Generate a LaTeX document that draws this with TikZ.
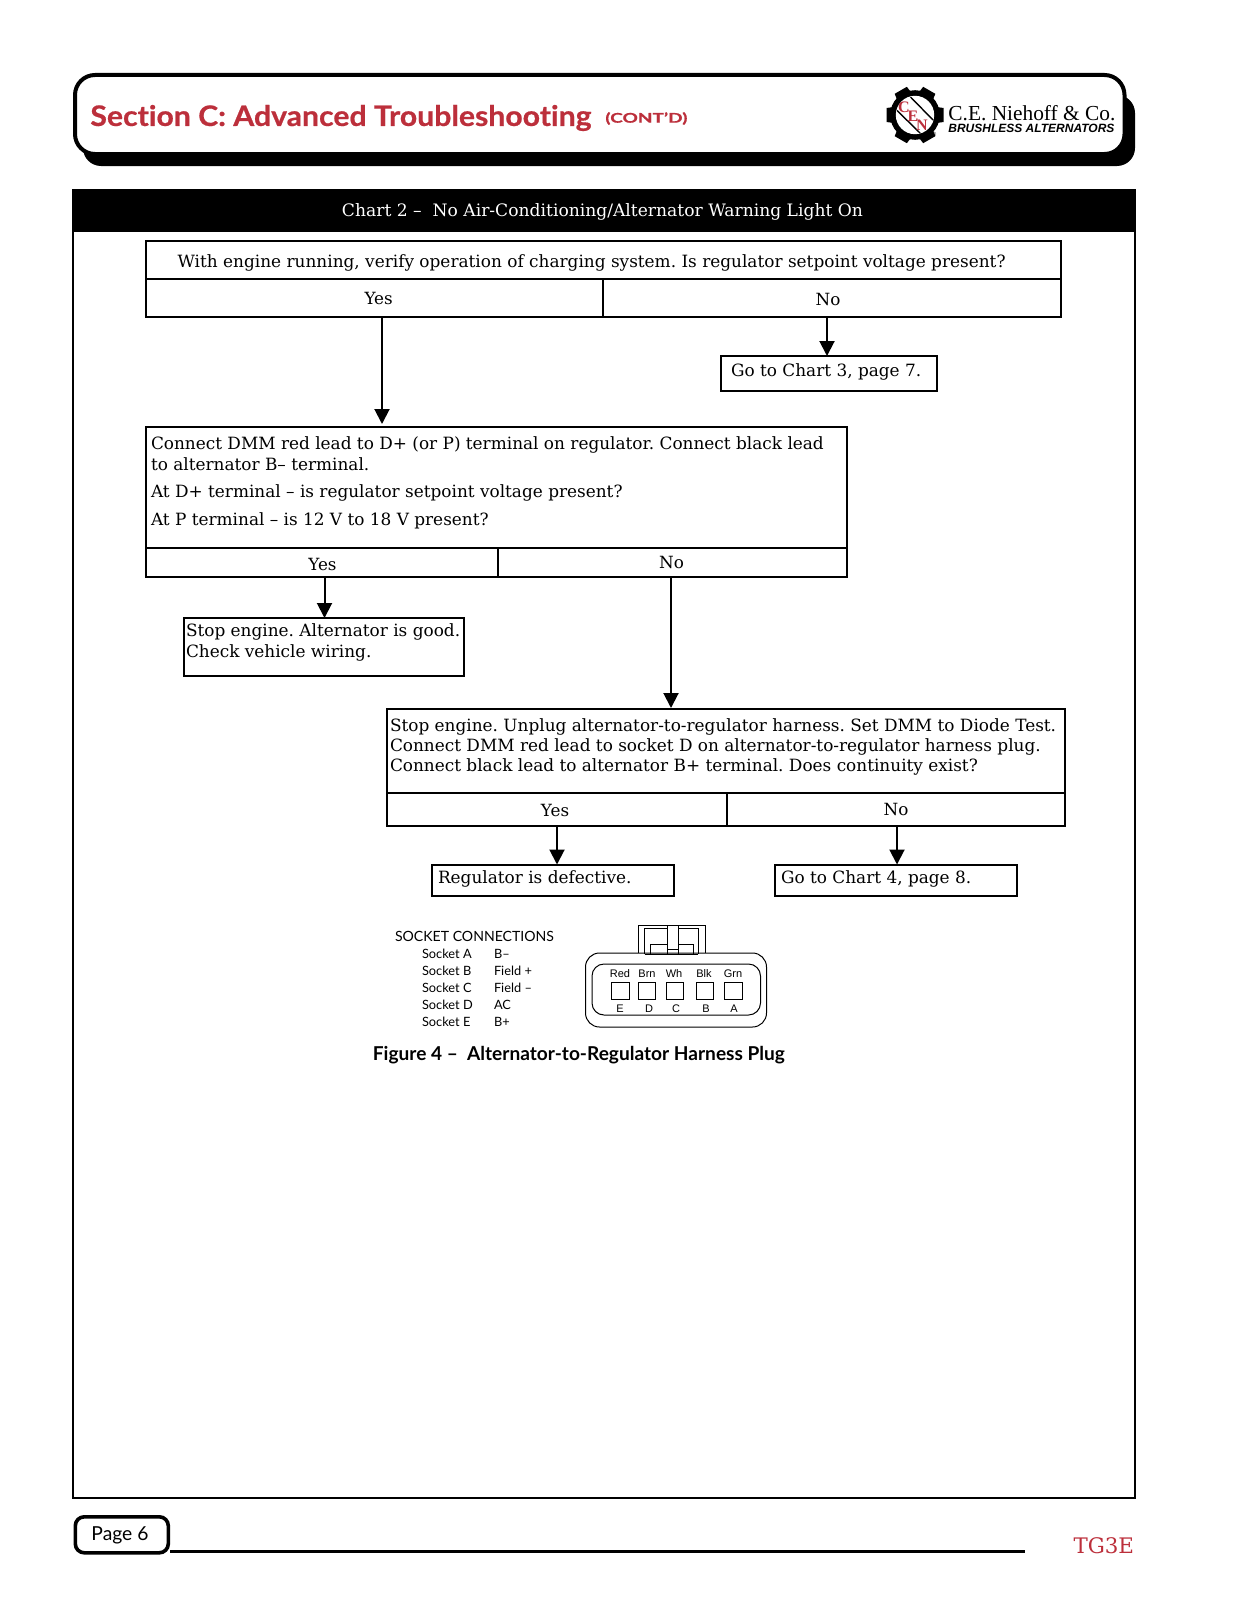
\documentclass[tikz,border=0pt]{standalone}
\usepackage{graphicx}
\usepackage{fontspec}
\setmainfont{DejaVu Serif}
\newfontfamily\gill[Ligatures=CommonOff]{Lato}
\newfontfamily\gillfat[Ligatures=CommonOff,FakeBold=0.6]{Lato Bold}
\newfontfamily\helv{Liberation Sans}
\newfontfamily\tms{Liberation Serif}
\usetikzlibrary{arrows.meta}
\definecolor{secred}{HTML}{BC2F3B}
\newcommand\fitw[2]{\resizebox{\dimexpr #1pt/2\relax}{!}{#2}}
\newcommand\fitwh[3]{\resizebox{\dimexpr #1pt/2\relax}{\dimexpr #2pt/2\relax}{#3}}
\tikzset{
  x=0.5pt,y=-0.5pt,
  cellbox/.style={draw=black,line width=1pt,anchor=north west,inner sep=0pt,outer sep=0pt},
  arr/.style={draw=black,line width=1pt,-{Triangle[length=7.5pt,width=7.5pt]}},
  body/.style={inner sep=0pt,outer sep=0pt,align=left,anchor=west,font=\frenchspacing\fontsize{8.45}{10.2}\selectfont},
  lab/.style={inner sep=0pt,outer sep=0pt,anchor=center,font=\fontsize{8.4}{10.2}\selectfont},
  sock/.style={inner sep=0pt,outer sep=0pt,anchor=west,font=\gill\fontsize{6.4}{7}\selectfont},
  pin/.style={inner sep=0pt,outer sep=0pt,anchor=center,font=\helv\fontsize{5.5}{6}\selectfont},
  pinbox/.style={draw=black,line width=0.5pt},
  plugline/.style={draw=black,line width=0.5pt},
  logoletter/.style={inner sep=0pt,text=secred,font=\tms\bfseries\fontsize{8}{8}\selectfont},
}
\begin{document}
\begin{tikzpicture}
\useasboundingbox (0,0) rectangle (1237,1600);
% header
\fill[black,rounded corners=9pt] (83,95) rectangle (1135,166);
\draw[black,fill=white,line width=2pt,rounded corners=10pt] (75,75) rectangle (1124.5,154);
\node[inner sep=0pt,anchor=west,text=secred,font=\gillfat\fontsize{14}{16}\selectfont] (sec) at (90,118) {\fitwh{501}{21}{Section C: Advanced Troubleshooting}};
\node[inner sep=0pt,anchor=west,text=secred,font=\gillfat\fontsize{8}{10}\selectfont] (cont) at (605,118.5) {\fitwh{82}{10.5}{(CONT’D)}};
% logo
\begin{scope}[shift={(915,115)}]
  \foreach \a in {0,60,...,300}{
    \fill[black,rotate=\a] (18,-8.5) -- (28.5,-7) -- (28.5,7) -- (18,8.5) -- cycle;
  }
  \fill[black] (0,0) circle[radius=12.4pt];
  \fill[white] (0,0) circle[radius=9.6pt];
  \draw[black,line width=0.7pt] (-4.5,-18) -- (18,5);
  \draw[black,line width=0.7pt] (-18,-4.5) -- (5,18);
\end{scope}
\node[logoletter] (logoc) at (904,107) {C};
\node[logoletter] (logoe) at (913,116) {E};
\node[logoletter] (logon) at (922,125) {N};
\node[inner sep=0pt,font=\helv\fontsize{3}{3}\selectfont] (logor) at (934,134) {®};
\node[inner sep=0pt,anchor=west,font=\tms\fontsize{11}{12}\selectfont] (nieh) at (948,113) {\fitw{167}{C.E. Niehoff \& Co.}};
\node[inner sep=0pt,anchor=west,font=\helv\bfseries\itshape\fontsize{5}{6}\selectfont] (brush) at (948,128) {\fitw{166}{BRUSHLESS ALTERNATORS}};
% chart frame
\draw[black,line width=1pt] (72.5,190) rectangle (1135,1498);
\fill[black] (72,190) rectangle (1135.5,232);
\node[inner sep=0pt,text=white,font=\fontsize{8}{10}\selectfont] (title) at (602.5,212) {\fitw{521}{Chart 2 –\ \ No Air-Conditioning/Alternator Warning Light On}};
% box 1
\node[cellbox,minimum width=457.5pt,minimum height=19pt] (q1) at (146,241) {};
\node[cellbox,minimum width=228.5pt,minimum height=19pt] (q1y) at (146,279) {};
\node[cellbox,minimum width=229pt,minimum height=19pt] (q1n) at (603,279) {};
\node[body] (q1t) at (177.6,263) {\fitw{828}{With engine running, verify operation of charging system. Is regulator setpoint voltage present?}};
\node[lab] (q1yt) at (378.6,298) {Yes};
\node[lab] (q1nt) at (828,299) {No};
\node[cellbox,minimum width=108.25pt,minimum height=17.5pt] (c3) at (720.5,356) {};
\node[body] (c3t) at (731,372) {Go to Chart 3, page 7.};
% box 2
\node[cellbox,minimum width=350.5pt,minimum height=60.5pt] (q2) at (146,427) {};
\node[cellbox,minimum width=176pt,minimum height=14.5pt] (q2y) at (146,548) {};
\node[cellbox,minimum width=174.5pt,minimum height=14.5pt] (q2n) at (498,548) {};
\node[body] (q2a) at (151,453.5) {Connect DMM red lead to D+ (or P) terminal on regulator. Connect black lead\\to alternator B– terminal.};
\node[body] (q2b) at (151,492.5) {At D+ terminal – is regulator setpoint voltage present?};
\node[body] (q2c) at (151,521) {At P terminal – is 12 V to 18 V present?};
\node[lab] (q2yt) at (322.5,564) {Yes};
\node[lab] (q2nt) at (671.5,562) {No};
\node[cellbox,minimum width=140pt,minimum height=29pt] (st) at (184,618) {};
\node[body] (stt) at (186,642.5) {Stop engine. Alternator is good.\\Check vehicle wiring.};
% box 3
\node[cellbox,minimum width=339pt,minimum height=42pt] (q3) at (387,709) {};
\node[cellbox,minimum width=170pt,minimum height=16.25pt] (q3y) at (387,793) {};
\node[cellbox,minimum width=169pt,minimum height=16.25pt] (q3n) at (727,793) {};
\node[body] (q3a) at (390,747) {Stop engine. Unplug alternator-to-regulator harness. Set DMM to Diode Test.\\Connect DMM red lead to socket D on alternator-to-regulator harness plug.\\Connect black lead to alternator B+ terminal. Does continuity exist?};
\node[lab] (q3yt) at (555,810.5) {Yes};
\node[lab] (q3nt) at (896,809.5) {No};
\node[cellbox,minimum width=121pt,minimum height=15.5pt] (rg) at (432,864.5) {};
\node[body] (rgt) at (438,879) {Regulator is defective.};
\node[cellbox,minimum width=121.25pt,minimum height=15.5pt] (c4) at (774.5,864.5) {};
\node[body] (c4t) at (781,879) {Go to Chart 4, page 8.};
% connectors
\coordinate (e1) at (382,424);
\coordinate (e2) at (827,356);
\coordinate (e3) at (324.5,618);
\coordinate (e4) at (671,708);
\coordinate (e5) at (557,864.5);
\coordinate (e6) at (897,864.5);
\draw[arr] (q1y.south -| e1) -- (e1);
\draw[arr] (q1n.south -| e2) -- (e2);
\draw[arr] (q2y.south -| e3) -- (e3);
\draw[arr] (q2n.south -| e4) -- (e4);
\draw[arr] (q3y.south -| e5) -- (e5);
\draw[arr] (q3n.south -| e6) -- (e6);
% socket table
\node[sock] (sh) at (395,936.5) {\fitw{159}{SOCKET CONNECTIONS}};
\node[sock] (sa) at (422,953.5) {Socket A};
\node[sock] (sb) at (422,970.5) {Socket B};
\node[sock] (sc) at (422,987.5) {Socket C};
\node[sock] (sd) at (422,1004.5) {Socket D};
\node[sock] (se) at (422,1021.5) {Socket E};
\node[sock] (va) at (494,953.5) {B–};
\node[sock] (vb) at (494,970.5) {Field +};
\node[sock] (vc) at (494,987.5) {Field –};
\node[sock] (vd) at (494,1004.5) {AC};
\node[sock] (ve) at (494,1021.5) {B+};
% plug
\draw[plugline] (638.5,953) -- (638.5,925) -- (705,925) -- (705,953);
\draw[plugline] (644.5,954) -- (644.5,928) -- (667,928);
\draw[plugline] (678,928) -- (698,928) -- (698,954);
\draw[plugline] (667,925) -- (667,954);
\draw[plugline] (678,925) -- (678,954);
\draw[plugline] (650.5,954) -- (650.5,944) -- (667,944);
\draw[plugline] (678,944) -- (693,944) -- (693,954);
\draw[plugline] (667,949) -- (678,949);
\draw[plugline] (644.5,954) -- (698,954);
\draw[plugline,rounded corners=7pt] (585.5,953) rectangle (766.5,1027);
\draw[plugline,rounded corners=6pt] (592,964) rectangle (760.5,1015);
\draw[pinbox] (611,982) rectangle (629,999);
\draw[pinbox] (638,982) rectangle (655,999);
\draw[pinbox] (666,982) rectangle (683,999);
\draw[pinbox] (696,982) rectangle (713,999);
\draw[pinbox] (724,982) rectangle (742,999);
\node[pin] (l1) at (620,974) {Red};
\node[pin] (l2) at (647,974) {Brn};
\node[pin] (l3) at (674,974) {Wh};
\node[pin] (l4) at (704,974) {Blk};
\node[pin] (l5) at (733,974) {Grn};
\node[pin] (p1) at (620,1008.5) {E};
\node[pin] (p2) at (649,1008.5) {D};
\node[pin] (p3) at (676,1008.5) {C};
\node[pin] (p4) at (706,1008.5) {B};
\node[pin] (p5) at (734,1008.5) {A};
\node[inner sep=0pt,anchor=west,font=\gill\bfseries\fontsize{8}{10}\selectfont] (cap) at (372.5,1055) {\fitw{412}{Figure 4 –\ \ Alternator-to-Regulator Harness Plug}};
% footer
\coordinate (fe) at (1025,1551.5);
\node[draw=black,fill=white,line width=1.8pt,rounded corners=4.5pt,anchor=north west,minimum width=46.5pt,minimum height=18pt,inner sep=0pt] (pg) at (73.5,1515) {};
\draw[black,line width=1.5pt] (pg.south east |- fe) -- (fe);
\node[inner sep=0pt,font=\gill\fontsize{10}{12}\selectfont] (pgt) at (120,1535) {\fitw{57}{Page 6}};
\node[inner sep=0pt,anchor=east,text=secred,font=\fontsize{10.7}{13}\selectfont] (tg) at (1134.5,1545.5) {TG3E};
\end{tikzpicture}
\end{document}
